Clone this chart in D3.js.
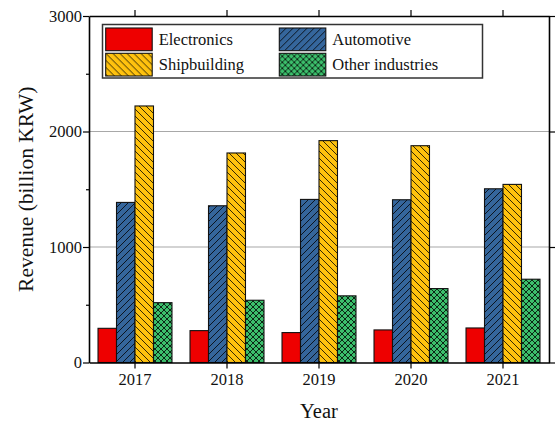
<!DOCTYPE html>
<html>
<head>
<meta charset="utf-8">
<script src="https://cdn.jsdelivr.net/npm/d3@7"></script>
<style>
  html, body { margin: 0; padding: 0; background: #fff; }
  svg { display: block; }
</style>
</head>
<body>
<script>
// Revenue by industry, 2017-2021 (billion KRW)
const years = ["2017", "2018", "2019", "2020", "2021"];
const seriesNames = ["Electronics", "Automotive", "Shipbuilding", "Other industries"];
const electronics = [296, 276, 259, 282, 299];
const automotive = [1386, 1357, 1412, 1409, 1504];
const shipbuilding = [2221, 1814, 1921, 1877, 1542];
const otherIndustries = [518, 539, 577, 640, 721];
const yTicks = [0, 1000, 2000, 3000];

const seriesValues = [electronics, automotive, shipbuilding, otherIndustries];
const fills = ["#ee0000", "#35669c", "#ffc20e", "#3cbf6c"];
const hatches = [null, "fwd", "back", "cross"];
const SERIF = '"Liberation Serif", "Times New Roman", serif';

const W = 557, H = 426;
const margin = { top: 16, right: 8, bottom: 63.5, left: 89 };
const iw = W - margin.left - margin.right;
const ih = H - margin.top - margin.bottom;

const svg = d3.select("body").append("svg").attr("width", W).attr("height", H)
  .style("font-family", SERIF);

// hatch patterns: single diagonals on a 7px tile, cross-hatch on a 6px tile
const defs = svg.append("defs");
function addPattern(id, color, kind) {
  const s = kind === "cross" ? 6 : 7;
  const p = defs.append("pattern").attr("id", id)
    .attr("patternUnits", "userSpaceOnUse").attr("width", s).attr("height", s);
  p.append("rect").attr("width", s).attr("height", s).attr("fill", color);
  let d = "";
  if (kind === "fwd" || kind === "cross")
    d += `M-1,1 L1,-1 M0,${s} L${s},0 M${s - 1},${s + 1} L${s + 1},${s - 1} `;
  if (kind === "back" || kind === "cross")
    d += `M-1,${s - 1} L1,${s + 1} M0,0 L${s},${s} M${s - 1},-1 L${s + 1},1`;
  p.append("path").attr("d", d).attr("stroke", "#000").attr("stroke-width", 0.8)
    .attr("fill", "none").attr("shape-rendering", "crispEdges");
}
seriesNames.forEach((s, i) => { if (hatches[i]) addPattern("pat" + i, fills[i], hatches[i]); });
const fillFor = i => hatches[i] ? `url(#pat${i})` : fills[i];

const g = svg.append("g").attr("transform", `translate(${margin.left},${margin.top})`);

const x = d3.scaleBand().domain(years).range([0, iw]).paddingInner(0.196).paddingOuter(0.098);
const xs = d3.scaleBand().domain(seriesNames).range([0, x.bandwidth()]);
const y = d3.scaleLinear().domain([0, 3000]).range([ih, 0]);

// grid lines
g.append("g").selectAll("line").data([1000, 2000]).join("line")
  .attr("x1", 0).attr("x2", iw).attr("y1", d => y(d)).attr("y2", d => y(d))
  .attr("stroke", "#a8a8a8").attr("stroke-width", 1.2);

// bars
const groups = g.append("g").selectAll("g").data(years).join("g")
  .attr("transform", d => `translate(${x(d)},0)`);
groups.selectAll("rect")
  .data((yr, yi) => seriesNames.map((s, si) => ({ s, si, v: seriesValues[si][yi] })))
  .join("rect")
  .attr("x", d => xs(d.s)).attr("width", xs.bandwidth())
  .attr("y", d => y(d.v)).attr("height", d => y(0) - y(d.v))
  .attr("fill", d => fillFor(d.si)).attr("stroke", "#111").attr("stroke-width", 1.1);

// axes
const axisStyle = sel => {
  sel.attr("font-family", SERIF);
  sel.select(".domain").attr("stroke", "#000").attr("stroke-width", 1.6);
  sel.selectAll(".tick line").attr("stroke", "#000").attr("stroke-width", 1.2);
  sel.selectAll(".tick text").style("font-size", "16.5px").attr("fill", "#111")
    .style("font-family", SERIF);
};

g.append("g").attr("transform", `translate(0,${ih})`)
  .call(d3.axisBottom(x).tickSize(6).tickSizeOuter(0).tickPadding(5))
  .call(axisStyle);
g.append("g")
  .call(d3.axisTop(x).tickSize(6).tickSizeOuter(0).tickFormat(""))
  .call(axisStyle);

g.append("g")
  .call(d3.axisLeft(y).tickValues(yTicks).tickFormat(d3.format("d"))
    .tickSize(6).tickSizeOuter(0).tickPadding(1))
  .call(axisStyle);
g.append("g")
  .call(d3.axisLeft(y).tickValues([500, 1500, 2500]).tickSize(3).tickFormat(""))
  .call(axisStyle).select(".domain").remove();
g.append("g").attr("transform", `translate(${iw},0)`)
  .call(d3.axisRight(y).tickValues(yTicks).tickSize(6).tickSizeOuter(0).tickFormat(""))
  .call(axisStyle);

// axis titles
svg.append("text").attr("transform", `translate(33,${margin.top + ih / 2}) rotate(-90)`)
  .attr("text-anchor", "middle").style("font-family", SERIF).style("font-size", "21.5px")
  .attr("fill", "#111").text("Revenue (billion KRW)");
svg.append("text").attr("x", margin.left + iw / 2).attr("y", 418)
  .attr("text-anchor", "middle").style("font-family", SERIF).style("font-size", "20.5px")
  .attr("fill", "#111").text("Year");

// legend
const leg = svg.append("g");
leg.append("rect").attr("x", 102.5).attr("y", 24.5).attr("width", 380).attr("height", 53.5)
  .attr("fill", "#fff").attr("stroke", "#333").attr("stroke-width", 1.5);
const legPos = [[105.7, 28], [279.3, 28], [105.7, 53.3], [279.3, 53.3]];
const items = leg.selectAll("g.item").data(seriesNames).join("g").attr("class", "item")
  .attr("transform", (d, i) => `translate(${legPos[i][0]},${legPos[i][1]})`);
items.append("rect").attr("width", 46.5).attr("height", 22.7)
  .attr("fill", (d, i) => fillFor(i)).attr("stroke", "#111").attr("stroke-width", 1.1);
items.append("text").attr("x", 53).attr("y", 17).style("font-family", SERIF)
  .style("font-size", "16.5px").attr("fill", "#111").text(d => d);
</script>
</body>
</html>
